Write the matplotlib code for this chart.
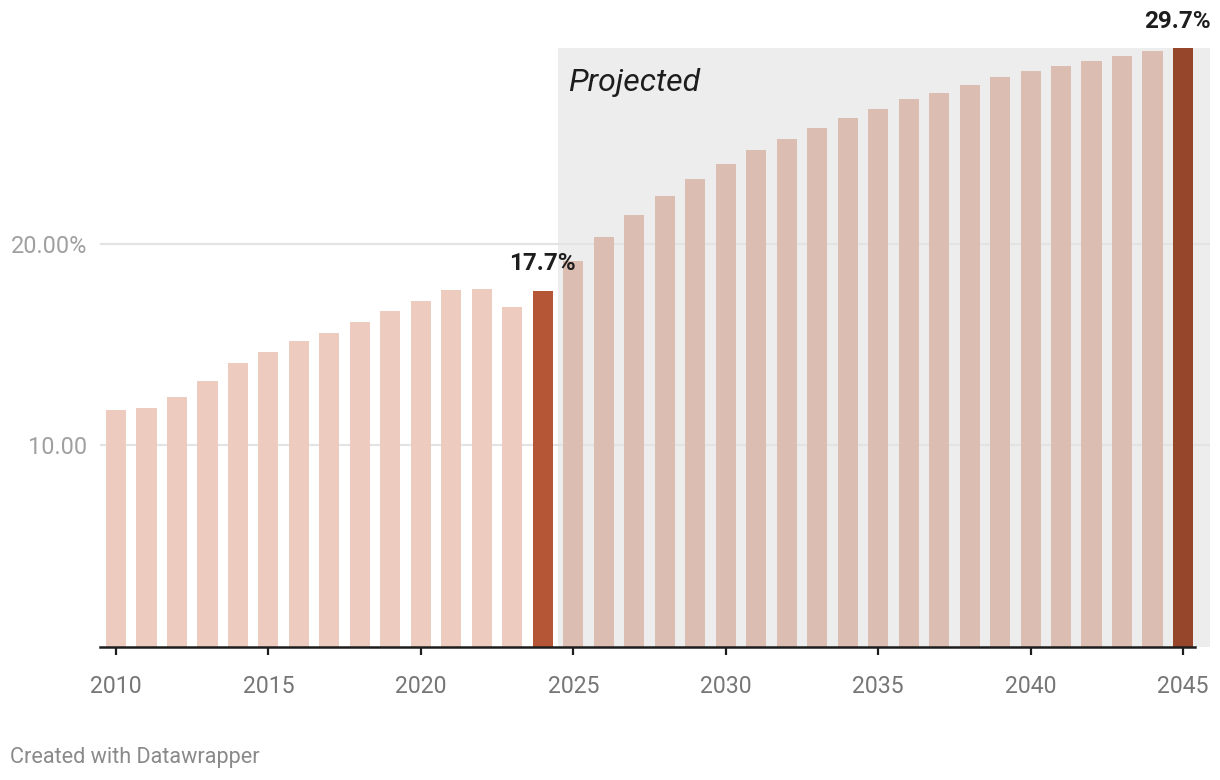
import matplotlib
matplotlib.use('Agg')
import matplotlib.pyplot as plt
from matplotlib.patches import Rectangle

plt.rcParams['font.family'] = ['Roboto', 'DejaVu Sans']

# データ
years = list(range(2010, 2046))
values = [11.76, 11.86, 12.41, 13.20, 14.09, 14.64, 15.19, 15.58, 16.13, 16.67,
          17.17, 17.72, 17.77, 16.87, 17.67,
          19.12, 20.35, 21.44, 22.38, 23.23, 23.97, 24.62, 25.21, 25.76, 26.25,
          26.70, 27.15, 27.49, 27.89, 28.24, 28.54, 28.83, 29.08, 29.33, 29.53, 29.70]
first_projected = 2025
highlight = {2024: '17.7%', 2045: '29.7%'}
y_ticks = [10, 20]
y_tick_labels = ['10.00', '20.00%']
x_ticks = list(range(2010, 2046, 5))

col_hist = '#eecbbf'
col_proj = '#dbbdb2'
col_hist_hi = '#b55637'
col_proj_hi = '#96462a'
col_shade = '#ededed'


def main():
    fig = plt.figure(figsize=(12.2, 7.8), dpi=100)
    ax = fig.add_axes([100 / 1220, 133 / 780, 1110 / 1220, 605 / 780])

    xmin, xmax = 2009.475, 2045.886
    ax.set_xlim(xmin, xmax)
    ax.set_ylim(0, 30.0)

    # 予測期間の背景
    top = max(values)
    ax.add_patch(Rectangle((first_projected - 0.5, 0), xmax - (first_projected - 0.5), top,
                           facecolor=col_shade, edgecolor='none', zorder=0))

    # グリッド線
    for t in y_ticks:
        ax.axhline(t, color='#e3e3e3', lw=1.5, zorder=1)

    colors = []
    for y in years:
        proj = y >= first_projected
        if y in highlight:
            colors.append(col_proj_hi if proj else col_hist_hi)
        else:
            colors.append(col_proj if proj else col_hist)
    ax.bar(years, values, width=0.66, color=colors, zorder=2)

    # 値ラベル（最後のラベルは図の右端に収まるよう少し左へ）
    for y, label in highlight.items():
        v = values[years.index(y)]
        dx = -6 if y == years[-1] else 0
        ax.annotate(label, (y, v), xytext=(dx * 0.72, 11), textcoords='offset points',
                    ha='center', va='bottom', fontsize=17.5, fontweight='bold',
                    color='#1d1d1d', annotation_clip=False)

    ax.text(first_projected - 0.5 + 0.33, top - 1.0, 'Projected', fontsize=23,
            fontstyle='italic', color='#1d1d1d', ha='left', va='top')

    # 軸
    for s in ax.spines.values():
        s.set_visible(False)
    ax.axhline(0, xmin=0, xmax=(2045.4 - xmin) / (xmax - xmin), color='#1d1d1d',
               lw=1.8, zorder=3, clip_on=False)
    ax.set_xticks(x_ticks)
    ax.set_xticklabels([str(x) for x in x_ticks])
    ax.tick_params(axis='x', length=6, width=1.6, color='#1d1d1d', pad=14,
                   labelsize=16.6, labelcolor='#767676')
    ax.set_yticks(y_ticks)
    ax.set_yticklabels(y_tick_labels)
    ax.tick_params(axis='y', length=0, pad=9.4, labelsize=16.9, labelcolor='#a0a0a0')

    fig.text(10 / 1220, 1 - 757 / 780, 'Created with Datawrapper', fontsize=15.6,
             color='#8a8a8a', ha='left', va='center')

    fig.savefig('out.png', dpi=100)


if __name__ == '__main__':
    main()
